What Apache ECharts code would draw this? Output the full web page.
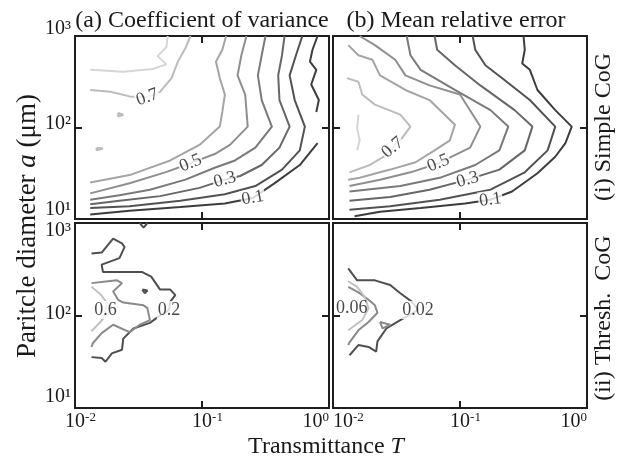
<!DOCTYPE html>
<html>
<head>
<meta charset="utf-8">
<script src="https://cdn.jsdelivr.net/npm/echarts@6/dist/echarts.min.js"></script>
<style>
html, body { margin: 0; padding: 0; background: #fff; }
#main { width: 624px; height: 460px; }
</style>
</head>
<body>
<div id="main"></div>
<script>
// tick label exponents (10^n)
var xTickExp = ['-2', '-1', '0'];
var yTickExp = ['1', '2', '3'];

// contour lines, each point is [log10 T, log10 a]
// (a)(i) coefficient of variance, simple CoG
var cvSimpleLevels = [0.8, 0.7, 0.6, 0.5, 0.4, 0.3, 0.2, 0.1, 0.1, 0.7, 0.7];
var cvSimpleLines = [
  [[-1.27,3.00],[-1.28,2.88],[-1.35,2.78],[-1.28,2.69],[-1.39,2.64],[-1.62,2.61],[-1.88,2.63]],
  [[-1.09,3.00],[-1.13,2.87],[-1.19,2.72],[-1.24,2.54],[-1.33,2.39],[-1.43,2.33],[-1.57,2.34],[-1.72,2.39],[-1.88,2.41]],
  [[-0.81,3.00],[-0.84,2.85],[-0.89,2.72],[-0.86,2.54],[-0.82,2.36],[-0.84,2.17],[-0.86,2.01],[-1.02,1.81],[-1.25,1.64],[-1.57,1.48],[-1.88,1.40]],
  [[-0.65,3.00],[-0.69,2.79],[-0.72,2.57],[-0.66,2.36],[-0.64,2.01],[-0.78,1.81],[-0.90,1.71],[-1.09,1.61],[-1.29,1.51],[-1.57,1.39],[-1.88,1.28]],
  [[-0.50,3.00],[-0.53,2.79],[-0.56,2.57],[-0.53,2.30],[-0.45,2.01],[-0.58,1.78],[-0.74,1.64],[-0.90,1.56],[-1.13,1.43],[-1.41,1.32],[-1.65,1.26],[-1.88,1.21]],
  [[-0.35,3.00],[-0.37,2.79],[-0.40,2.57],[-0.39,2.30],[-0.31,2.01],[-0.39,1.78],[-0.53,1.59],[-0.70,1.47],[-0.82,1.43],[-1.02,1.34],[-1.33,1.25],[-1.65,1.20],[-1.88,1.16]],
  [[-0.21,3.00],[-0.26,2.79],[-0.31,2.57],[-0.27,2.30],[-0.19,2.01],[-0.23,1.75],[-0.37,1.54],[-0.58,1.36],[-0.82,1.27],[-1.17,1.20],[-1.57,1.14],[-1.88,1.12]],
  [[-0.09,3.00],[-0.13,2.85],[-0.15,2.72],[-0.10,2.63],[-0.14,2.47],[-0.08,2.30],[-0.10,2.17]],
  [[-0.09,1.83],[-0.23,1.59],[-0.43,1.39],[-0.60,1.23],[-0.82,1.17],[-1.17,1.13],[-1.57,1.09],[-1.88,1.05]],
  [[-1.66,2.16],[-1.62,2.14],[-1.66,2.12],[-1.66,2.16]],
  [[-1.83,1.78],[-1.78,1.77],[-1.83,1.75],[-1.83,1.78]]
];
var cvSimpleLabelAt = [[1, 5], [3, 7], [5, 8], [8, 3]];

// (b)(i) mean relative error, simple CoG
var mreSimpleLevels = [0.8, 0.7, 0.6, 0.5, 0.4, 0.3, 0.2, 0.1];
var mreSimpleLines = [
  [[-1.80,2.14],[-1.81,1.99],[-1.79,1.86],[-1.81,1.75]],
  [[-1.89,2.54],[-1.80,2.50],[-1.77,2.36],[-1.67,2.25],[-1.47,2.14],[-1.39,2.01],[-1.47,1.86],[-1.53,1.78],[-1.59,1.69],[-1.71,1.59],[-1.87,1.51]],
  [[-1.88,2.90],[-1.80,2.79],[-1.69,2.74],[-1.63,2.57],[-1.43,2.41],[-1.24,2.30],[-1.04,2.03],[-1.08,1.86],[-1.20,1.75],[-1.35,1.62],[-1.55,1.54],[-1.79,1.45],[-1.88,1.43]],
  [[-1.79,3.00],[-1.67,2.90],[-1.51,2.74],[-1.43,2.57],[-1.24,2.46],[-1.00,2.36],[-0.84,2.01],[-0.92,1.78],[-1.17,1.61],[-1.39,1.51],[-1.63,1.43],[-1.87,1.36]],
  [[-1.42,3.00],[-1.39,2.79],[-1.31,2.63],[-1.04,2.41],[-0.76,2.19],[-0.62,2.01],[-0.69,1.75],[-0.88,1.59],[-1.16,1.45],[-1.47,1.36],[-1.87,1.30]],
  [[-1.20,3.00],[-1.18,2.85],[-1.04,2.68],[-0.84,2.46],[-0.57,2.19],[-0.43,2.01],[-0.49,1.75],[-0.69,1.54],[-0.94,1.43],[-1.24,1.32],[-1.55,1.24],[-1.87,1.20]],
  [[-0.90,3.00],[-0.88,2.85],[-0.80,2.68],[-0.65,2.52],[-0.45,2.30],[-0.25,2.01],[-0.31,1.75],[-0.49,1.51],[-0.76,1.32],[-1.16,1.21],[-1.55,1.14],[-1.87,1.10]],
  [[-0.50,3.00],[-0.49,2.85],[-0.51,2.70],[-0.45,2.63],[-0.39,2.41],[-0.25,2.19],[-0.12,2.01],[-0.17,1.83],[-0.25,1.68],[-0.39,1.50],[-0.59,1.30],[-0.76,1.21],[-0.96,1.17],[-1.31,1.12],[-1.63,1.08],[-1.83,1.03]]
];
var mreSimpleLabelAt = [[1, 7], [3, 8], [5, 8], [7, 11]];

// (a)(ii) coefficient of variance, threshold CoG
var cvThreshLevels = [0.2, 0.2, 0.2, 0.4, 0.6];
var cvThreshLines = [
  [[-1.87,2.67],[-1.79,2.68],[-1.70,2.83],[-1.63,2.78],[-1.61,2.74],[-1.65,2.62],[-1.79,2.55],[-1.78,2.47],[-1.47,2.47],[-1.40,2.42],[-1.33,2.28],[-1.25,2.28],[-1.21,2.22],[-1.25,2.15],[-1.26,2.06],[-1.34,1.99],[-1.41,1.92],[-1.54,1.86],[-1.62,1.75],[-1.63,1.63],[-1.71,1.59],[-1.76,1.50],[-1.79,1.54],[-1.87,1.55]],
  [[-1.47,2.28],[-1.43,2.27],[-1.45,2.24],[-1.47,2.28]],
  [[-1.49,3.00],[-1.46,2.95],[-1.43,3.00]],
  [[-1.87,2.35],[-1.74,2.37],[-1.67,2.38],[-1.63,2.35],[-1.70,2.26],[-1.66,2.17],[-1.62,2.14],[-1.46,2.11],[-1.43,2.08],[-1.41,1.95],[-1.49,1.90],[-1.57,1.82],[-1.70,1.90],[-1.79,1.81],[-1.86,1.70],[-1.87,1.66]],
  [[-1.87,2.31],[-1.80,2.23],[-1.75,2.14],[-1.76,2.06],[-1.78,1.96],[-1.87,1.83]]
];
var cvThreshLabelAt = [[0, 14], [4, 3]];

// (b)(ii) mean relative error, threshold CoG
var mreThreshLevels = [0.02, 0.04, 0.04, 0.06];
var mreThreshLines = [
  [[-1.88,2.51],[-1.81,2.38],[-1.67,2.38],[-1.55,2.33],[-1.47,2.24],[-1.38,2.15],[-1.33,2.06],[-1.47,1.95],[-1.58,1.86],[-1.65,1.72],[-1.66,1.61],[-1.72,1.66],[-1.80,1.68],[-1.87,1.57]],
  [[-1.63,1.93],[-1.55,1.90],[-1.54,1.88],[-1.61,1.86],[-1.63,1.93]],
  [[-1.88,2.31],[-1.80,2.25],[-1.72,2.17],[-1.67,2.11],[-1.65,2.03],[-1.72,1.93],[-1.80,1.84],[-1.87,1.71],[-1.88,1.68]],
  [[-1.88,2.37],[-1.81,2.31],[-1.75,2.20],[-1.72,2.08],[-1.77,1.95],[-1.85,1.87],[-1.88,1.84]]
];
var mreThreshLabelAt = [[0, 6], [3, 3]];

var FONT = '"Liberation Serif", "Times New Roman", serif';
var INK = '#1a1a1a';
var FRAME = '#1e1e1e';
var SUP = {'1': '\u00b9', '2': '\u00b2', '3': '\u00b3'};

var simpleColors = {0.8: '#d6d6d6', 0.7: '#bcbcbc', 0.6: '#a5a5a5', 0.5: '#8f8f8f', 0.4: '#7a7a7a', 0.3: '#676767', 0.2: '#525252', 0.1: '#3d3d3d'};
var cvThreshColors = {0.6: '#c2c2c2', 0.4: '#8a8a8a', 0.2: '#4f4f4f'};
var mreThreshColors = {0.06: '#c2c2c2', 0.04: '#8a8a8a', 0.02: '#4f4f4f'};

var myChart = echarts.init(document.getElementById('main'));

var grids = [
  {left: 75, top: 36, width: 254, height: 183},
  {left: 333, top: 36, width: 254, height: 183},
  {left: 75, top: 223, width: 254, height: 185},
  {left: 333, top: 223, width: 254, height: 185}
].map(function (g) {
  return Object.assign({show: true, borderColor: FRAME, borderWidth: 2, backgroundColor: 'transparent'}, g);
});

var tickRich = {
  p: {width: 11, fontSize: 20, fontFamily: FONT},
  b: {fontSize: 20, fontFamily: FONT, color: INK, lineHeight: 22},
  s: {fontSize: 13, fontFamily: FONT, color: INK, verticalAlign: 'top'}
};
// y tick labels are one token each; padding nudges them up or down
var nudgePads = {u4: [0, 0, 4, 0], u8: [0, 0, 8, 0], u14: [0, 0, 14, 0], u18: [0, 0, 18, 0], u22: [0, 0, 22, 0], d16: [16, 0, 0, 0]};
Object.keys(nudgePads).forEach(function (k) {
  tickRich['y' + k] = {fontSize: 20, fontFamily: FONT, color: INK, lineHeight: 22, padding: nudgePads[k]};
});

var axTick = {show: true, inside: true, length: 7, lineStyle: {color: FRAME, width: 2}};

function xAxisPair(g, labels, pads, minAlign) {
  var bottom = {
    type: 'log', logBase: 10, min: 0.01, max: 1, gridIndex: g, position: 'bottom',
    axisLine: {show: false}, splitLine: {show: false}, axisTick: axTick,
    axisLabel: {show: labels, margin: 3, rich: tickRich, alignMinLabel: minAlign, alignMaxLabel: 'right',
      formatter: function (v, i) { return (pads[i] ? '{p| }' : '') + '{b|10}{s|' + xTickExp[i] + '}'; }}
  };
  var top = {
    type: 'log', logBase: 10, min: 0.01, max: 1, gridIndex: g, position: 'top',
    axisLine: {show: false}, splitLine: {show: false}, axisTick: axTick, axisLabel: {show: false}
  };
  return [bottom, top];
}

function yAxisPair(g, labels, nudges) {
  var left = {
    type: 'log', logBase: 10, min: 10, max: 1000, gridIndex: g, position: 'left',
    axisLine: {show: false}, splitLine: {show: false}, axisTick: axTick,
    axisLabel: {show: labels, margin: 4, rich: tickRich,
      formatter: function (v, i) { return '{y' + nudges[i] + '|10' + SUP[yTickExp[i]] + '}'; }}
  };
  var right = {
    type: 'log', logBase: 10, min: 10, max: 1000, gridIndex: g, position: 'right',
    axisLine: {show: false}, splitLine: {show: false}, axisTick: axTick, axisLabel: {show: false}
  };
  return [left, right];
}

var xAxes = [].concat(
  xAxisPair(0, false, [0, 0, 0], 'center'),
  xAxisPair(1, false, [0, 0, 0], 'center'),
  xAxisPair(2, true, [1, 1, 0], 'center'),
  xAxisPair(3, true, [0, 1, 0], 'left')
);
var yAxes = [].concat(
  yAxisPair(0, true, ['u18', 'u8', 'u14']),
  yAxisPair(1, false, ['u4', 'u4', 'u4']),
  yAxisPair(2, true, ['u22', 'u4', 'd16']),
  yAxisPair(3, false, ['u4', 'u4', 'u4'])
);

function toVal(p) { return [Math.pow(10, p[0]), Math.pow(10, p[1])]; }

var series = [];
function addPanel(g, levels, lines, labelAt, colors, rotations, aligns, plainBg) {
  lines.forEach(function (pts, k) {
    series.push({
      type: 'line', xAxisIndex: g * 2, yAxisIndex: g * 2,
      data: pts.map(toVal), symbol: 'none', showSymbol: false, silent: true,
      lineStyle: {color: colors[levels[k]], width: 2}, z: 2
    });
  });
  labelAt.forEach(function (la, j) {
    series.push({
      type: 'scatter', xAxisIndex: g * 2, yAxisIndex: g * 2,
      data: [toVal(lines[la[0]][la[1]])], symbolSize: 1,
      itemStyle: {color: 'rgba(0,0,0,0)'}, silent: true, z: 5,
      label: {
        show: true, position: 'inside', formatter: String(levels[la[0]]),
        rotate: rotations[j], align: aligns[j] || 'center',
        fontFamily: FONT, fontSize: 18, color: INK,
        backgroundColor: (plainBg && plainBg[j]) ? 'transparent' : '#fff', padding: [0, 1]
      },
      labelLayout: {hideOverlap: false}
    });
  });
}

addPanel(0, cvSimpleLevels, cvSimpleLines, cvSimpleLabelAt, simpleColors, [20, 22, 15, 10], []);
addPanel(1, mreSimpleLevels, mreSimpleLines, mreSimpleLabelAt, simpleColors, [40, 22, 15, 8], []);
addPanel(2, cvThreshLevels, cvThreshLines, cvThreshLabelAt, cvThreshColors, [0, 0], ['center', 'center'], [false, false]);
addPanel(3, mreThreshLevels, mreThreshLines, mreThreshLabelAt, mreThreshColors, [0, 0], ['center', 'right'], [false, true]);

function txt(x, y, text, rich, rot) {
  return {
    type: 'text', x: x, y: y, rotation: rot || 0, silent: true,
    style: {text: text, rich: rich, font: '24px ' + FONT, fill: INK,
      align: 'center', verticalAlign: 'middle', textAlign: 'center', textVerticalAlign: 'middle'}
  };
}
var labRich = {
  n: {fontFamily: FONT, fontSize: 24, color: INK},
  i: {fontFamily: FONT, fontSize: 24, color: INK, fontStyle: 'italic'}
};
var yLabRich = {
  n: {fontFamily: FONT, fontSize: 27, color: INK},
  i: {fontFamily: FONT, fontSize: 27, color: INK, fontStyle: 'italic'}
};

var option = {
  animation: false,
  backgroundColor: '#fff',
  grid: grids,
  xAxis: xAxes,
  yAxis: yAxes,
  series: series,
  graphic: [
    txt(202, 21, '{n|(a) Coefficient of variance}', labRich),
    txt(456, 21, '{n|(b) Mean relative error}', labRich),
    txt(326, 447, '{n|Transmittance }{i|T}', labRich),
    txt(28, 226, '{n|Paritcle diameter }{i|a}{n| (μm)}', yLabRich, Math.PI / 2),
    txt(604, 127, '{n|(i) Simple CoG}', labRich, Math.PI / 2),
    txt(604, 318, '{n|(ii) Thresh.  CoG}', labRich, Math.PI / 2)
  ]
};
myChart.setOption(option);
</script>
</body>
</html>
